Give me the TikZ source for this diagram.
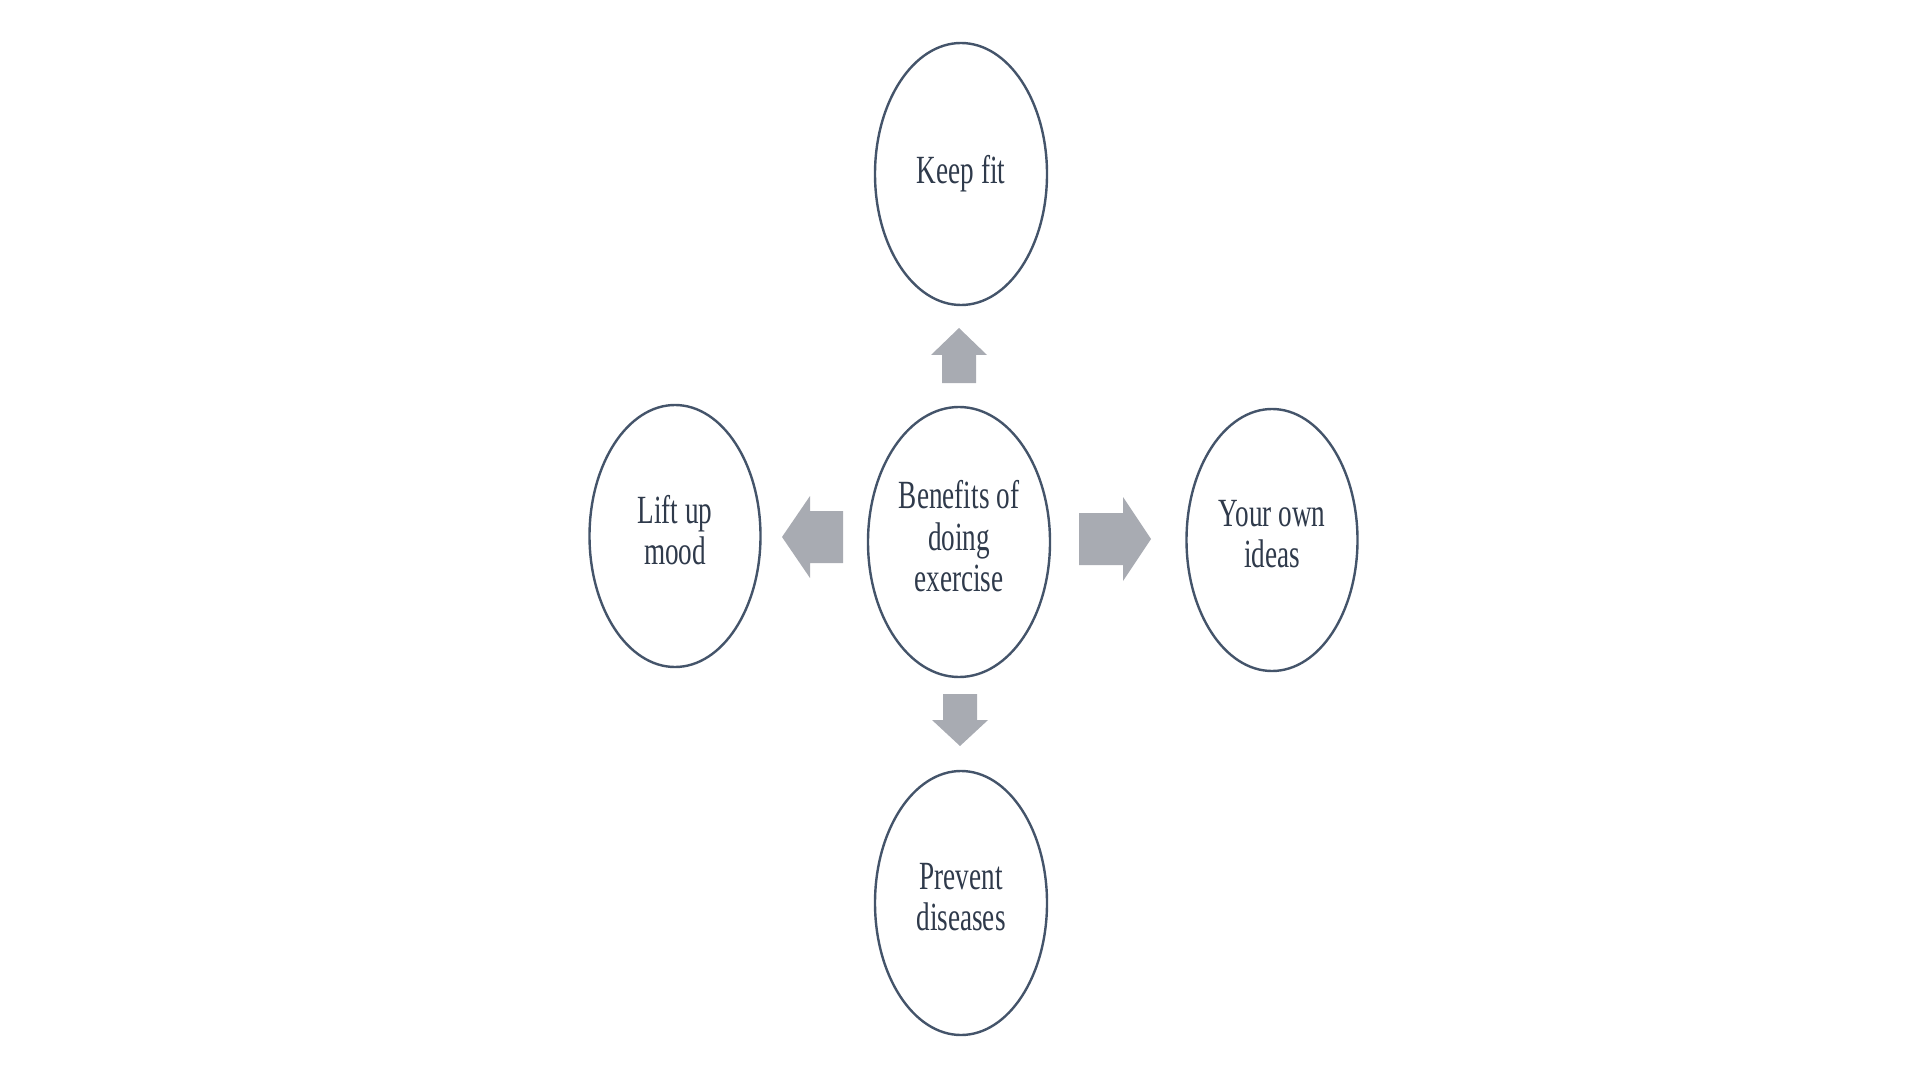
\documentclass[tikz,border=0pt]{standalone}
\usepackage{fontspec}
\setmainfont{Liberation Serif}[FakeStretch=0.68]
\usetikzlibrary{shapes.geometric}
\definecolor{ringcol}{HTML}{44546A}
\definecolor{txtcol}{HTML}{2F3A4B}
\definecolor{arrcol}{RGB}{168,171,178}
\tikzset{
  bubble/.style={ellipse, draw=ringcol, line width=1.2pt, fill=white, inner sep=0pt,
    align=center, text=txtcol, font=\fontsize{20pt}{20.8pt}\selectfont},
  blockfill/.style={fill=arrcol, draw=none}
}
\begin{document}
\begin{tikzpicture}[x=0.5pt, y=-0.5pt]
\useasboundingbox (0,0) rectangle (1920,1080);
% ellipses
\node[bubble, minimum width=86pt, minimum height=131pt] (top) at (961,174) {Keep fit};
\node[bubble, minimum width=91pt, minimum height=135pt] (mid) at (959,542) {Benefits of\\doing\\exercise\rule[-6pt]{0pt}{0pt}};
\node[bubble, minimum width=85.5pt, minimum height=131pt] (left) at (675,536) {Lift up\\mood\rule[-6pt]{0pt}{0pt}};
\node[bubble, minimum width=85.5pt, minimum height=131pt] (right) at (1272,540) {Your own\\ideas\rule[-6pt]{0pt}{0pt}};
\node[bubble, minimum width=86pt, minimum height=132pt] (bot) at (961,903) {Prevent\\diseases\rule[-6pt]{0pt}{0pt}};
% block arrows
% up
\fill[blockfill] (942,383) -- (942,355) -- (931,355) -- (959,328) -- (987,355) -- (976,355) -- (976,383) -- cycle;
% down
\fill[blockfill] (943,694) -- (977,694) -- (977,720) -- (988,720) -- (960,746) -- (932,720) -- (943,720) -- cycle;
% left
\fill[blockfill] (843,511) -- (810,511) -- (810,496) -- (782,537) -- (810,578) -- (810,563) -- (843,563) -- cycle;
% right
\fill[blockfill] (1079,513) -- (1123,513) -- (1123,497) -- (1151,539) -- (1123,581) -- (1123,565) -- (1079,565) -- cycle;
\end{tikzpicture}
\end{document}
